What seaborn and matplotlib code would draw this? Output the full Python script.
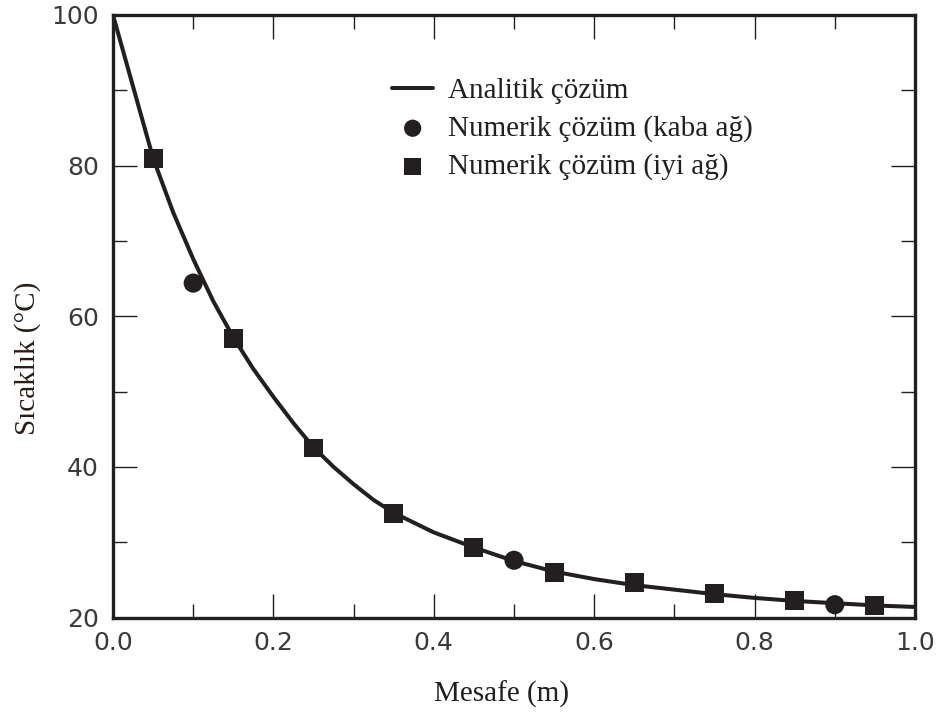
import numpy as np
import pandas as pd
import matplotlib
matplotlib.use("Agg")
import matplotlib.pyplot as plt
from matplotlib.ticker import MultipleLocator
import seaborn as sns

# --- DATA ---
curve_x = [0.0, 0.025, 0.05, 0.075, 0.1, 0.125, 0.15, 0.175, 0.2, 0.225, 0.25,
           0.275, 0.3, 0.325, 0.35, 0.4, 0.45, 0.5, 0.55, 0.6, 0.65, 0.7,
           0.75, 0.8, 0.85, 0.9, 0.95, 1.0]
curve_t = [100.0, 90.5, 81.0, 73.8, 67.6, 62.0, 57.2, 53.0, 49.3, 45.8, 42.6,
           40.0, 37.7, 35.6, 33.9, 31.3, 29.3, 27.5, 26.1, 25.1, 24.3, 23.7,
           23.1, 22.6, 22.2, 21.9, 21.6, 21.4]

coarse_x = [0.1, 0.5, 0.9]
coarse_t = [64.4, 27.6, 21.7]

fine_x = [0.05, 0.15, 0.25, 0.35, 0.45, 0.55, 0.65, 0.75, 0.85, 0.95]
fine_t = [81.0, 57.1, 42.5, 33.8, 29.3, 26.0, 24.7, 23.2, 22.3, 21.6]

lbl_curve = "Analitik çözüm"
lbl_coarse = "Numerik çözüm (kaba ağ)"
lbl_fine = "Numerik çözüm (iyi ağ)"

INK = "#231f20"

sns.set_theme(style="ticks")
plt.rcParams['font.family'] = ['DejaVu Sans']

curve_df = pd.DataFrame({'x': curve_x, 't': curve_t})
coarse_df = pd.DataFrame({'x': coarse_x, 't': coarse_t})
fine_df = pd.DataFrame({'x': fine_x, 't': fine_t})

fig = plt.figure(figsize=(9.48, 7.22), dpi=100)
ax = fig.add_axes([113 / 948, 1 - 617.5 / 722, 802 / 948, 602.5 / 722])

sns.lineplot(data=curve_df, x='x', y='t', ax=ax, color=INK, linewidth=2.9,
             label=lbl_curve, zorder=2)
sns.scatterplot(data=coarse_df, x='x', y='t', ax=ax, color=INK, marker='o',
                s=190, edgecolor='none', label=lbl_coarse, zorder=3)
sns.scatterplot(data=fine_df, x='x', y='t', ax=ax, color=INK, marker='s',
                s=185, edgecolor='none', label=lbl_fine, zorder=3)

ax.set_xlim(0, 1.0)
ax.set_ylim(20, 100)
ax.xaxis.set_major_locator(MultipleLocator(0.2))
ax.xaxis.set_minor_locator(MultipleLocator(0.1))
ax.yaxis.set_major_locator(MultipleLocator(20))
ax.yaxis.set_minor_locator(MultipleLocator(10))
ax.set_xticklabels([f"{v:.1f}" for v in ax.get_xticks()])

for side in ['left', 'right', 'top', 'bottom']:
    ax.spines[side].set_visible(True)
    ax.spines[side].set_linewidth(2.4)
    ax.spines[side].set_color(INK)

ax.tick_params(which='both', direction='in', top=True, right=True,
               color=INK, width=1.0)
ax.tick_params(which='major', length=17, labelsize=18, labelcolor='#3a3a3a', pad=10)
ax.tick_params(which='minor', length=10)

serif = ['Liberation Serif', 'DejaVu Serif']
ax.set_xlabel("Mesafe (m)", family=serif, fontsize=21, color=INK)
ax.xaxis.set_label_coords(0.484, -0.105)
ax.set_ylabel("Sıcaklık (°C)", family=serif, fontsize=21, color='#2a1c14')
ax.yaxis.set_label_coords(-0.09, 0.43)

leg = ax.legend(loc='upper left', bbox_to_anchor=(0.33, 0.92), frameon=False,
                prop={'family': serif, 'size': 21}, handlelength=1.4,
                handletextpad=0.5, labelspacing=0.38, borderpad=0,
                markerscale=0.9)
for txt in leg.get_texts():
    txt.set_color(INK)

fig.savefig("out.png", dpi=100)
